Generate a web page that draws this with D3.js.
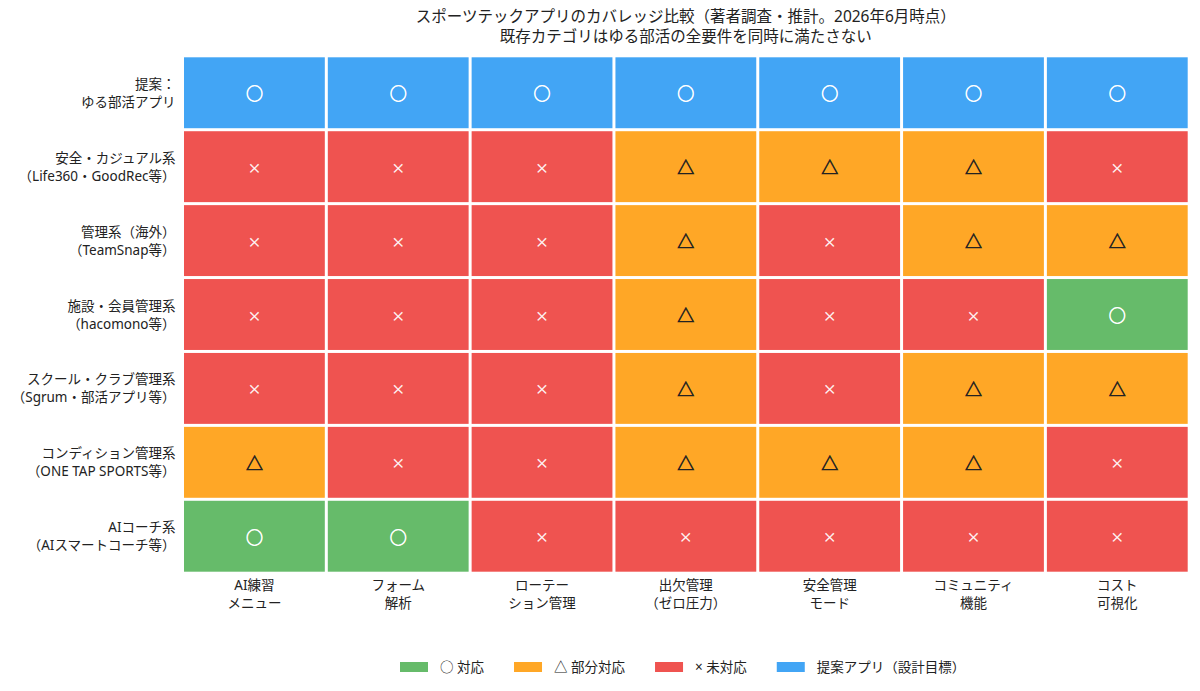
<!DOCTYPE html>
<html>
<head>
<meta charset="utf-8">
<script src="https://cdn.jsdelivr.net/npm/d3@7"></script>
<style>
  body { margin: 0; background: #fff; }
  svg text { font-family: "Noto Sans", "Noto Sans CJK JP", sans-serif; fill: #222; }
  svg text.mark { font-family: "Noto Sans CJK JP", sans-serif; }
</style>
</head>
<body>
<div id="chart"></div>
<script>
// Chart data
const titleLines = [
  'スポーツテックアプリのカバレッジ比較（著者調査・推計。2026年6月時点）',
  '既存カテゴリはゆる部活の全要件を同時に満たさない',
];
const rowLabels = [
  ['提案：', 'ゆる部活アプリ'],
  ['安全・カジュアル系', '（Life360・GoodRec等）'],
  ['管理系（海外）', '（TeamSnap等）'],
  ['施設・会員管理系', '（hacomono等）'],
  ['スクール・クラブ管理系', '（Sgrum・部活アプリ等）'],
  ['コンディション管理系', '（ONE TAP SPORTS等）'],
  ['AIコーチ系', '（AIスマートコーチ等）'],
];
const colLabels = [
  ['AI練習', 'メニュー'],
  ['フォーム', '解析'],
  ['ローテー', 'ション管理'],
  ['出欠管理', '（ゼロ圧力）'],
  ['安全管理', 'モード'],
  ['コミュニティ', '機能'],
  ['コスト', '可視化'],
];
// P = proposed app, O = supported, T = partial, X = unsupported
const coverage = [
  ['P', 'P', 'P', 'P', 'P', 'P', 'P'],
  ['X', 'X', 'X', 'T', 'T', 'T', 'X'],
  ['X', 'X', 'X', 'T', 'X', 'T', 'T'],
  ['X', 'X', 'X', 'T', 'X', 'X', 'O'],
  ['X', 'X', 'X', 'T', 'X', 'T', 'T'],
  ['T', 'X', 'X', 'T', 'T', 'T', 'X'],
  ['O', 'O', 'X', 'X', 'X', 'X', 'X'],
];
const statusKeys = ['O', 'T', 'X', 'P'];
const statusColors = ['#66bb6a', '#ffa726', '#ef5350', '#42a5f5'];
const statusSymbols = ['○', '△', '×', '○'];
const statusSymbolColors = ['#fff', '#222', '#fff', '#fff'];
const legendLabels = ['○ 対応', '△ 部分対応', '× 未対応', '提案アプリ（設計目標）'];

const width = 1200;
const height = 691;
const margin = { top: 55.8, right: 10.8, bottom: 117.8, left: 182.5 };

const svg = d3.select('#chart').append('svg')
  .attr('width', width)
  .attr('height', height);

const cells = coverage.flatMap((row, r) => row.map((s, c) => ({ r, c, s })));

const x = d3.scaleBand()
  .domain(d3.range(colLabels.length))
  .range([margin.left, width - margin.right]);
const y = d3.scaleBand()
  .domain(d3.range(rowLabels.length))
  .range([margin.top, height - margin.bottom]);

const color = d3.scaleOrdinal().domain(statusKeys).range(statusColors);
const symbol = d3.scaleOrdinal().domain(statusKeys).range(statusSymbols);
const symbolColor = d3.scaleOrdinal().domain(statusKeys).range(statusSymbolColors);

const gap = 1.5;

// Cells
svg.append('g').selectAll('rect')
  .data(cells)
  .join('rect')
  .attr('x', (d) => x(d.c) + gap)
  .attr('y', (d) => y(d.r) + gap)
  .attr('width', x.bandwidth() - gap * 2)
  .attr('height', y.bandwidth() - gap * 2)
  .attr('fill', (d) => color(d.s));

svg.append('g').selectAll('text')
  .data(cells)
  .join('text')
  .attr('class', 'mark')
  .attr('x', (d) => x(d.c) + x.bandwidth() / 2)
  .attr('y', (d) => y(d.r) + y.bandwidth() / 2)
  .attr('text-anchor', 'middle')
  .attr('dominant-baseline', 'central')
  .attr('font-size', (d) => (d.s === 'X' ? 13.5 : 17))
  .style('fill', (d) => symbolColor(d.s))
  .style('stroke', (d) => symbolColor(d.s))
  .style('stroke-width', (d) => (d.s === 'X' ? 0.2 : 0.6))
  .text((d) => symbol(d.s));

// Row labels
const rowG = svg.append('g').selectAll('text')
  .data(rowLabels)
  .join('text')
  .attr('text-anchor', 'end')
  .attr('font-size', 13.5);
rowG.selectAll('tspan')
  .data((d, i) => d.map((t, k) => ({ t, k, i })))
  .join('tspan')
  .attr('x', margin.left - 7)
  .attr('y', (d) => y(d.i) + y.bandwidth() / 2 + (d.k === 0 ? -9 : 9))
  .attr('dominant-baseline', 'central')
  .text((d) => d.t);

// Column labels
const colG = svg.append('g').selectAll('text')
  .data(colLabels)
  .join('text')
  .attr('text-anchor', 'middle')
  .attr('font-size', 13.5);
colG.selectAll('tspan')
  .data((d, i) => d.map((t, k) => ({ t, k, i })))
  .join('tspan')
  .attr('x', (d) => x(d.i) + x.bandwidth() / 2)
  .attr('y', (d) => height - margin.bottom + 12 + d.k * 18)
  .attr('dominant-baseline', 'central')
  .text((d) => d.t);

// Title
svg.append('g').selectAll('text')
  .data(titleLines)
  .join('text')
  .attr('x', (margin.left + width - margin.right) / 2)
  .attr('y', (d, i) => 15.5 + i * 20.5)
  .attr('text-anchor', 'middle')
  .attr('dominant-baseline', 'central')
  .attr('font-size', 15.5)
  .text((d) => d);

// Legend
const legendY = 667;
const legend = svg.append('g');
let lx = 400;
legendLabels.forEach((label, i) => {
  const item = legend.append('g');
  item.append('rect')
    .attr('x', lx)
    .attr('y', legendY - 5)
    .attr('width', 28)
    .attr('height', 10)
    .attr('fill', statusColors[i]);
  const t = item.append('text')
    .attr('x', lx + 40)
    .attr('y', legendY)
    .attr('dominant-baseline', 'central')
    .attr('font-size', 13.5)
    .text(label);
  lx += 40 + t.node().getComputedTextLength() + 30;
});
</script>
</body>
</html>
